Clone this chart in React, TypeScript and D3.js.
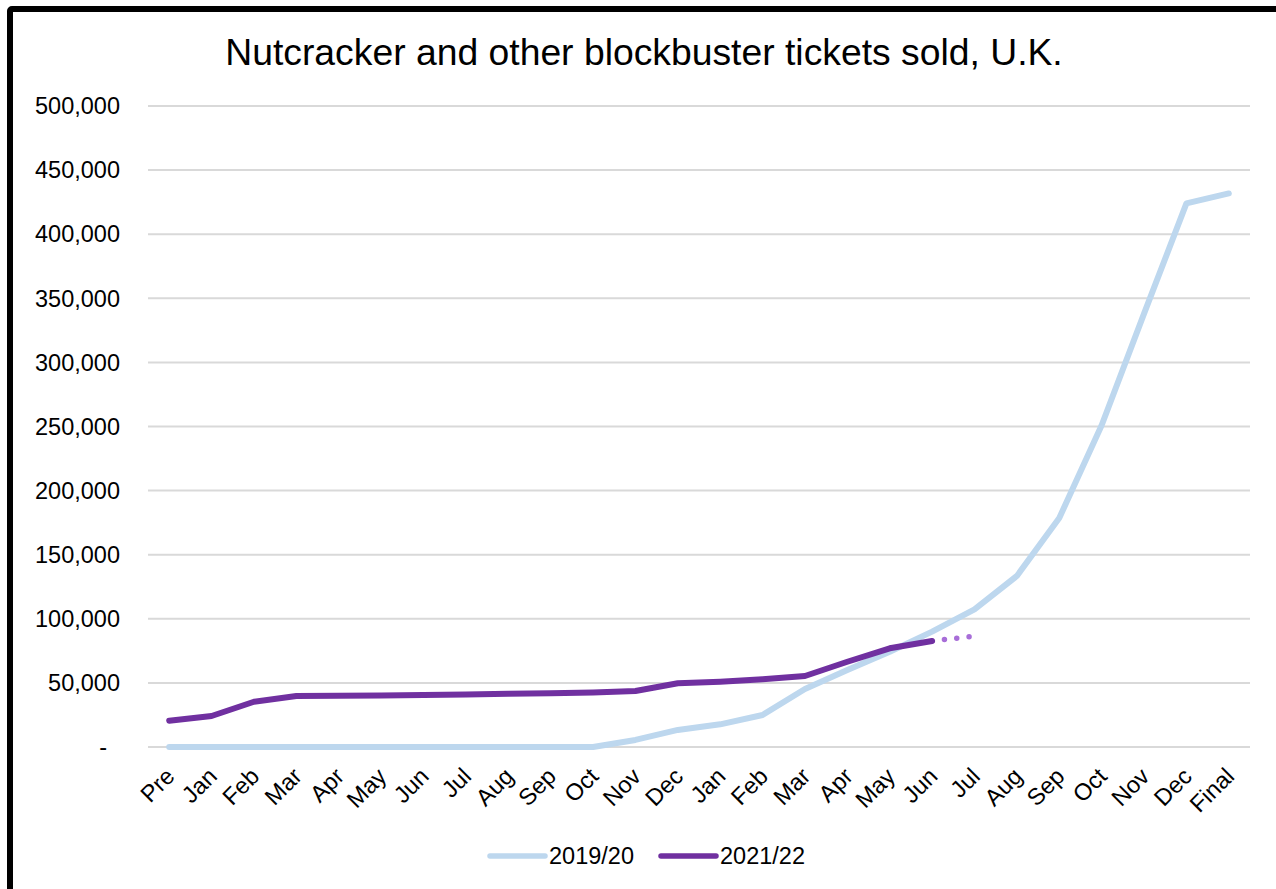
import React, { useEffect, useRef } from "react";
import * as d3 from "d3";

const months = ["Pre", "Jan", "Feb", "Mar", "Apr", "May", "Jun", "Jul", "Aug", "Sep", "Oct", "Nov", "Dec",
  "Jan", "Feb", "Mar", "Apr", "May", "Jun", "Jul", "Aug", "Sep", "Oct", "Nov", "Dec", "Final"];

// 2019/20 season, cumulative tickets
const sales1920 = [0, 0, 0, 0, 0, 0, 0, 0, 0, 0, 0, 5500, 13300, 17700, 25000, 45200, 60000, 74300,
  90000, 107400, 133400, 178600, 251000, 338000, 424000, 431800];

// 2021/22 season so far (Pre .. Jun)
const sales2122 = [20500, 24200, 35300, 39800, 40000, 40200, 40500, 41000, 41500, 42000, 42500,
  43700, 49700, 50900, 52800, 55400, 66500, 77000, 82700];

// dotted projection, Jun -> Jul
const projectionStart = 18;
const projection2122 = [82700, 86500];

const yTicks = [0, 50000, 100000, 150000, 200000, 250000, 300000, 350000, 400000, 450000, 500000];

const seriesNames = ["2019/20", "2021/22"];
const colors = ["#BDD7EE", "#7030A0"];
const projColor = "#A86ED8";

const FONT = "'Liberation Sans', Arial, sans-serif";

const App = () => {
  const svgRef = useRef<SVGSVGElement>(null);

  useEffect(() => {
    const width = 1276, height = 889;
    const left = 148, right = 1250, top = 106, bottom = 747;

    const svg = d3.select(svgRef.current)
      .attr("width", width)
      .attr("height", height)
      .style("position", "absolute")
      .style("left", 0)
      .style("top", 0)
      .style("background", "#fff");
    svg.selectAll("*").remove();

    // outer frame
    svg.append("rect")
      .attr("x", 10).attr("y", 9)
      .attr("width", 1400).attr("height", 1000)
      .attr("rx", 2)
      .attr("fill", "#fff")
      .attr("stroke", "#000")
      .attr("stroke-width", 6);

    const x = d3.scaleBand<number>()
      .domain(d3.range(months.length))
      .range([left, right])
      .padding(0);
    const cx = (i: number) => (x(i) as number) + x.bandwidth() / 2;

    const y = d3.scaleLinear()
      .domain([0, 500000])
      .range([bottom, top]);

    svg.append("text")
      .attr("x", 644)
      .attr("y", 65)
      .attr("text-anchor", "middle")
      .attr("font-family", FONT)
      .attr("font-size", 37.3)
      .text("Nutcracker and other blockbuster tickets sold, U.K.");

    // grid
    svg.append("g")
      .selectAll("line")
      .data(yTicks)
      .enter().append("line")
      .attr("x1", left).attr("x2", right)
      .attr("y1", d => y(d)).attr("y2", d => y(d))
      .attr("stroke", "#D9D9D9")
      .attr("stroke-width", 2);

    // y labels
    svg.append("g")
      .selectAll("text")
      .data(yTicks)
      .enter().append("text")
      .attr("x", d => d === 0 ? 107 : 120)
      .attr("y", d => y(d))
      .attr("dy", "0.35em")
      .attr("text-anchor", "end")
      .attr("font-family", FONT)
      .attr("font-size", 23.5)
      .text(d => d === 0 ? "-" : d3.format(",")(d));

    // x labels
    svg.append("g")
      .selectAll("text")
      .data(months)
      .enter().append("text")
      .attr("transform", (d, i) => `translate(${cx(i) + 1}, 772) rotate(-45)`)
      .attr("dy", "0.35em")
      .attr("text-anchor", "end")
      .attr("font-family", FONT)
      .attr("font-size", 23.5)
      .text(d => d);

    const line = d3.line<number>()
      .x((d, i) => cx(i))
      .y(d => y(d));

    svg.append("path")
      .datum(sales1920)
      .attr("d", line)
      .attr("fill", "none")
      .attr("stroke", colors[0])
      .attr("stroke-width", 6)
      .attr("stroke-linejoin", "round")
      .attr("stroke-linecap", "round");

    const projLine = d3.line<number>()
      .x((d, i) => cx(projectionStart + i))
      .y(d => y(d));

    svg.append("path")
      .datum(projection2122)
      .attr("d", projLine)
      .attr("fill", "none")
      .attr("stroke", projColor)
      .attr("stroke-width", 5.5)
      .attr("stroke-linecap", "round")
      .attr("stroke-dasharray", "0 12.4");

    svg.append("path")
      .datum(sales2122)
      .attr("d", line)
      .attr("fill", "none")
      .attr("stroke", colors[1])
      .attr("stroke-width", 6)
      .attr("stroke-linejoin", "round")
      .attr("stroke-linecap", "round");

    // legend
    const legendX = [490, 661];
    const lg = svg.append("g");
    seriesNames.forEach((name, i) => {
      lg.append("line")
        .attr("x1", legendX[i]).attr("x2", legendX[i] + 55)
        .attr("y1", 856).attr("y2", 856)
        .attr("stroke", colors[i])
        .attr("stroke-width", 5.5)
        .attr("stroke-linecap", "round");
      lg.append("text")
        .attr("x", legendX[i] + 59)
        .attr("y", 856)
        .attr("dy", "0.35em")
        .attr("font-family", FONT)
        .attr("font-size", 23.5)
        .text(name);
    });
  }, []);

  return <svg ref={svgRef}></svg>;
};

export default App;
